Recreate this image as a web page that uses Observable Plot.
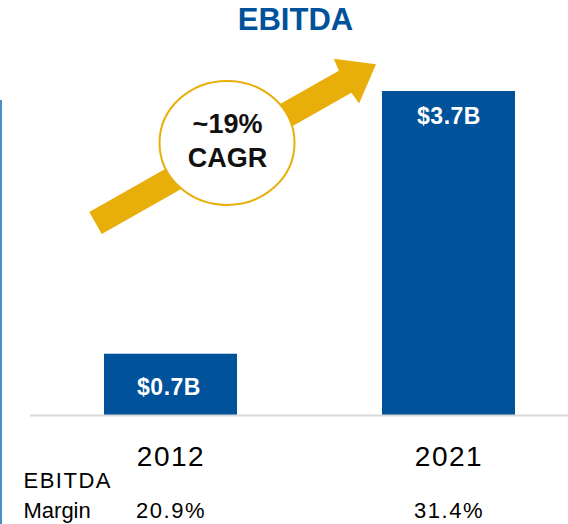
<!DOCTYPE html>
<html>
<head>
<meta charset="utf-8">
<script src="https://cdn.jsdelivr.net/npm/d3@7"></script>
<script src="https://cdn.jsdelivr.net/npm/@observablehq/plot@0.6"></script>
<style>
html, body { margin: 0; padding: 0; background: #fff; }
#wrap { position: relative; width: 568px; height: 524px; overflow: hidden; font-family: "Liberation Sans", Arial, sans-serif; }
#title { height: 50px; box-sizing: border-box; padding-top: 5px; padding-left: 23px; text-align: center;
  font: bold 31px/30px "Liberation Sans", Arial, sans-serif; color: #00529B; }
#chart svg { display: block; }
#edge { position: absolute; left: 0; top: 100px; width: 2px; height: 424px; background: #4A8FC9; }
</style>
</head>
<body>
<div id="wrap">
  <div id="title">EBITDA</div>
  <div id="chart"></div>
  <div id="edge"></div>
</div>
<script>
// ---- data ----
const years = ["2012", "2021"];
const ebitda = [0.7, 3.7];
const barLabels = ["$0.7B", "$3.7B"];
const marginValues = ["20.9%", "31.4%"];
const marginTitle = ["EBITDA", "Margin"];
const cagrText = ["~19%", "CAGR"];

const data = years.map((year, i) => ({year, value: ebitda[i], label: barLabels[i], margin: marginValues[i]}));

// ---- styling ----
const BLUE = "#00529B";
const GOLD = "#E8AF0A";
const FONT = "'Liberation Sans', Arial, sans-serif";

const chart = Plot.plot({
  width: 568,
  height: 474,
  marginLeft: 30,
  marginRight: 0,
  marginTop: 41,
  marginBottom: 109,
  style: {fontFamily: FONT, background: "transparent", overflow: "visible"},
  x: {domain: years, paddingInner: 0.52, paddingOuter: 0.2276, align: 0.585, axis: null},
  y: {domain: [0, 3.7], axis: null},
  marks: [
    Plot.barY(data, {x: "year", y: "value", fill: BLUE}),
    Plot.ruleY([0], {stroke: "#D9D9D9", strokeWidth: 2}),
    Plot.text(data.filter(d => d.year === "2012"), {x: "year", y: "value", text: "label", dy: 33, dx: -2,
      fill: "white", fontSize: 23, fontWeight: "bold"}),
    Plot.text(data.filter(d => d.year === "2021"), {x: "year", y: "value", text: "label", dy: 25,
      fill: "white", fontSize: 23, fontWeight: "bold"}),
    Plot.text(data, {x: "year", text: "year", frameAnchor: "bottom", lineAnchor: "bottom", dy: 50,
      fontSize: 28, fill: "#000"}),
    Plot.text(data, {x: "year", text: "margin", frameAnchor: "bottom", lineAnchor: "bottom", dy: 102,
      fontSize: 22, fill: "#000"}),
    Plot.text([marginTitle[0]], {text: d => d, frameAnchor: "bottom-left", textAnchor: "start", lineAnchor: "bottom",
      dx: -7, dy: 72, fontSize: 22, fill: "#000"}),
    Plot.text([marginTitle[1]], {text: d => d, frameAnchor: "bottom-left", textAnchor: "start", lineAnchor: "bottom",
      dx: -7, dy: 102, fontSize: 22, fill: "#000"})
  ]
});
document.getElementById("chart").appendChild(chart);

// slightly wider letter spacing to match the reference's typesetting
const wide = new Set([...years, ...marginValues, marginTitle[0]]);
d3.select(chart).selectAll("text").filter(function() { return wide.has(this.textContent); })
  .style("letter-spacing", "1.5px");
d3.select(chart).selectAll("text").filter(function() { return barLabels.includes(this.textContent); })
  .style("letter-spacing", "0.5px");

// ---- CAGR arrow annotation, placed through the plot's scales ----
const xs = chart.scale("x"), ys = chart.scale("y");
const px = (year, f) => xs.apply(year) + f * xs.bandwidth;
const py = v => ys.apply(v);

const tail = [px("2012", -0.064), py(2.193)];
const tip = [px("2021", -0.045), py(4.005)];
const ddx = tip[0] - tail[0], ddy = tip[1] - tail[1];
const L = Math.hypot(ddx, ddy);
const u = [ddx / L, ddy / L];
const n = [-u[1], u[0]];
const shaftW = 12.7, headW = 25.7, headL = 34, jointL = L - 35.5;
const at = (a, p) => [tail[0] + u[0] * a + n[0] * p, tail[1] + u[1] * a + n[1] * p];
const pts = [at(0, -shaftW), at(jointL, -shaftW), at(L - headL, -headW), tip,
             at(L - headL, headW), at(jointL, shaftW), at(0, shaftW)];

const svg = d3.select(chart);
const g = svg.append("g");
g.append("polygon").attr("points", pts.map(p => p.join(",")).join(" ")).attr("fill", GOLD);

const cx = px("2012", 0.925), cy = py(3.107);
g.append("ellipse").attr("cx", cx).attr("cy", cy).attr("rx", 67.5).attr("ry", 62)
  .attr("fill", "white").attr("stroke", GOLD).attr("stroke-width", 2);
g.append("text").attr("x", cx + 0.5).attr("y", cy - 10.3).attr("text-anchor", "middle")
  .attr("font-family", FONT).attr("font-size", 27).attr("font-weight", "bold").attr("fill", "#111")
  .text(cagrText[0]);
g.append("text").attr("x", cx + 0.5).attr("y", cy + 24).attr("text-anchor", "middle")
  .attr("font-family", FONT).attr("font-size", 27).attr("font-weight", "bold").attr("fill", "#111")
  .text(cagrText[1]);
</script>
</body>
</html>
